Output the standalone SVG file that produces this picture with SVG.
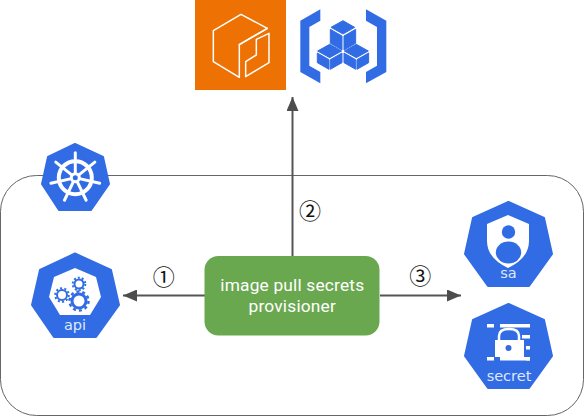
<svg xmlns="http://www.w3.org/2000/svg" width="584" height="416" viewBox="0 0 584 416">
<style>
.blue{fill:#326ce5;stroke:#326ce5;stroke-width:2;stroke-linejoin:round}
.w{fill:#fff}
.wl{fill:none;stroke:#fff;stroke-linecap:round;stroke-linejoin:round}
.ico{font-family:"DejaVu Sans",sans-serif;font-size:14.500px;fill:#dfe8fb;text-anchor:middle}
.conn{fill:none;stroke:#555;stroke-width:2}
.num{font-family:"Noto Sans CJK JP","DejaVu Sans",sans-serif;font-size:22px;fill:#111;text-anchor:middle}
.lbl{font-family:Roboto,sans-serif;font-size:17.330px;fill:#fff;text-anchor:middle;letter-spacing:.18px}
</style>
<defs>
<marker id="arr" viewBox="0 0 14 12" refX="14" refY="6" markerWidth="14" markerHeight="12" markerUnits="userSpaceOnUse" orient="auto"><path d="M0 0L14 6L0 12Z" fill="#4d4d4d"/></marker>
</defs>
<rect id="cluster" x="0.500" y="175.500" width="583" height="240" rx="36" fill="#fff" stroke="#666" stroke-width="1"/>
<g id="connectors">
<path class="conn" d="M205 295.500H123" marker-end="url(#arr)"/>
<path class="conn" d="M292.500 256V97" marker-end="url(#arr)"/>
<path class="conn" d="M380 295.500H461" marker-end="url(#arr)"/>
</g>
<g id="ecr">
<rect x="195" y="0" width="91" height="90" fill="#ee7203"/>
<g transform="translate(190,0) scale(.3333)" class="wl" stroke-width="4.500">
<path d="M232 85L153 43L70 92V185L148 232V134Z"/>
<path d="M148 134L232 85"/>
<path d="M237 100V188L167 230V185L199 165V118Z"/>
</g>
</g>
<g id="gcr">
<g transform="translate(190,0) scale(.3333)" fill="#326ce5">
<path d="M391 28V62L358 81V197L391 216V250L331 216V62Z"/>
<path d="M528 28V62L561 81V197L528 216V250L589 216V62Z"/>
<g stroke="#326ce5" stroke-width="3" stroke-linejoin="round">
<path d="M459 62L494 82L459 102L423 82Z"/>
<path d="M421 88L456 108V150L421 130Z"/>
<path d="M497 88L462 108V150L497 130Z"/>
<path d="M419 133L455 153L419 173L383 153Z"/>
<path d="M382 159L417 179V208L382 188Z"/>
<path d="M456 159L421 179V208L456 188Z"/>
<path d="M499 133L535 153L499 173L463 153Z"/>
<path d="M462 159L497 179V208L462 188Z"/>
<path d="M536 159L501 179V208L536 188Z"/>
</g>
</g>
</g>
<g id="k8s">
<polygon class="blue" points="75,144 103,157 109,184 91,210 59,210 42,184 48,157"/>
<g transform="translate(75.300,177.700)">
<circle r="16.500" fill="none" stroke="#fff" stroke-width="4"/>
<g class="wl" stroke-width="3">
<path d="M0 -25V-3"/>
<path d="M0 -25V-3" transform="rotate(51.430)"/>
<path d="M0 -25V-3" transform="rotate(102.860)"/>
<path d="M0 -25V-3" transform="rotate(154.290)"/>
<path d="M0 -25V-3" transform="rotate(205.710)"/>
<path d="M0 -25V-3" transform="rotate(257.140)"/>
<path d="M0 -25V-3" transform="rotate(308.570)"/>
</g>
<circle r="5.500" class="w"/>
<circle r="2.500" fill="#326ce5"/>
</g>
</g>
<g id="api">
<polygon class="blue" points="75,253.500 111,270 119,305 96,337 54,337 32,305 40,270"/>
<polygon class="w" points="75,268 96,277 101,297 90,315 60,315 49,297 54,277"/>
<g fill="none" stroke="#326ce5" stroke-linecap="butt">
<circle cx="79" cy="301" r="7" stroke-width="3"/><circle cx="79" cy="301" r="9.500" stroke-width="2.500" stroke-dasharray="3 2.970"/>
<circle cx="62" cy="295" r="5" stroke-width="2"/><circle cx="62" cy="295" r="6.800" stroke-width="2" stroke-dasharray="2.100 2.170"/>
<circle cx="79" cy="284" r="4.500" stroke-width="2"/><circle cx="79" cy="284" r="6.300" stroke-width="2" stroke-dasharray="2 1.960"/>
</g>
<text class="ico" x="75" y="330">api</text>
</g>
<g id="sa">
<polygon class="blue" points="508.500,202 544,218 552,254 529,286 488,286 465,254 473,218"/>
<path class="w" d="M508 215L529 224V241Q529 258 508 268Q487 258 487 241V224Z"/>
<circle cx="508.500" cy="232" r="6.700" fill="#326ce5"/>
<ellipse cx="508.500" cy="252.500" rx="12.700" ry="11" fill="#326ce5"/>
<text class="ico" x="508.500" y="278">sa</text>
</g>
<g id="secret">
<polygon class="blue" points="508.500,304 544,320 552,356 529,388 488,388 465,356 473,320"/>
<g class="w">
<rect x="487" y="324" width="7" height="3.500"/><rect x="500" y="324" width="30" height="3.500"/>
<rect x="522" y="335" width="8" height="3.500"/><rect x="526" y="346" width="4" height="3.500"/><rect x="526" y="357" width="4" height="3.500"/>
<rect x="487" y="357" width="7" height="3.500"/><rect x="500" y="357" width="30" height="3.500"/>
<rect x="495" y="340" width="29" height="17"/>
</g>
<path d="M499 340V336Q499 329 509 329Q519 329 519 336V340" fill="none" stroke="#fff" stroke-width="2.500"/>
<circle cx="508.500" cy="348" r="3" fill="#326ce5"/>
<text class="ico" x="509" y="381">secret</text>
</g>
<g id="provisioner">
<rect x="204.500" y="256" width="175" height="79.500" rx="14" fill="#6aa84f"/>
<text class="lbl" x="292.300" y="291">image pull secrets</text>
<text class="lbl" x="292.300" y="312">provisioner</text>
</g>
<text class="num" x="163.700" y="284.500">①</text>
<text class="num" x="310" y="218.500">②</text>
<text class="num" x="420.300" y="284">③</text>
</svg>
